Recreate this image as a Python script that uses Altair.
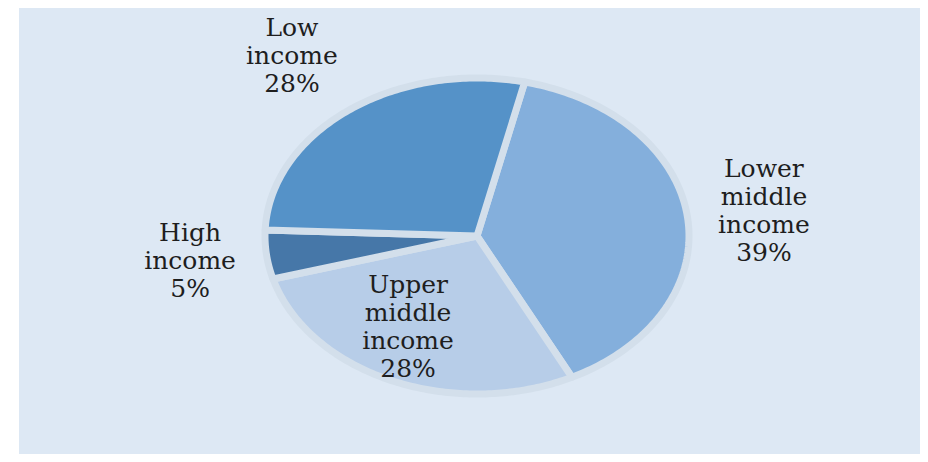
import altair as alt
import pandas as pd

# Data (clockwise from the top, as in the reference)
categories = ["Lower middle income", "Upper middle income", "High income", "Low income"]
shares = [39, 28, 5, 28]
colors = ["#84afdc", "#b7cde8", "#4677a8", "#5592c8"]

df = pd.DataFrame({"category": categories, "share": shares, "k": list(range(len(categories)))})

N = 120  # points along each slice's arc
OFFSET = 13 * 3.141592653589793 / 180  # start angle of first slice (clockwise from top)
LINE_H = 28
RY_PX = 158

base = alt.Chart(df).transform_joinaggregate(
    total="sum(share)"
).transform_window(
    cum="sum(share)", sort=[alt.SortField("k")], frame=[None, 0]
).transform_calculate(
    a0=f"2*PI*(datum.cum - datum.share)/datum.total + {OFFSET}",
    a1=f"2*PI*datum.cum/datum.total + {OFFSET}",
)

xs = alt.Scale(domain=[-1, 1], range=[246, 670], nice=False, zero=False)
ys = alt.Scale(domain=[-1, 1], range=[228 + RY_PX, 228 - RY_PX], nice=False, zero=False)
color = alt.Color("category:N", scale=alt.Scale(domain=categories, range=colors), legend=None)

slices = base.transform_calculate(
    pts=f"sequence(0, {N + 3})"
).transform_flatten(
    ["pts"], as_=["i"]
).transform_calculate(
    ang=f"datum.a0 + (datum.a1 - datum.a0) * clamp(datum.i - 1, 0, {N}) / {N}",
    r=f"(datum.i == 0 || datum.i == {N + 2}) ? 0 : 1",
).transform_calculate(
    px="datum.r * sin(datum.ang)",
    py="datum.r * cos(datum.ang)",
).mark_line(
    filled=True, stroke="#d3dfeb", strokeWidth=7, strokeJoin="round"
).encode(
    x=alt.X("px:Q", scale=xs, axis=None),
    y=alt.Y("py:Q", scale=ys, axis=None),
    color=color,
    detail="category:N",
    order="i:Q",
)

labels = base.transform_calculate(
    mid="(datum.a0 + datum.a1) / 2",
    pct="format(datum.share / datum.total, '.0%')",
).transform_calculate(
    inside="datum.category == 'Upper middle income'",
    label="datum.category + ' ' + datum.pct",
).transform_calculate(
    lr="datum.inside ? 0.66 : 1.35 + 0.11 * abs(cos(datum.mid))",
    mid2="datum.inside ? datum.mid + 0.1 : datum.mid",
    nlines="length(split(datum.label, ' '))",
).transform_calculate(
    lx="datum.lr * sin(datum.mid2)",
    ly=f"datum.lr * cos(datum.mid2) + (datum.nlines - 1) * {LINE_H / 2} / {RY_PX}",
).mark_text(
    lineBreak=" ", font="DejaVu Serif", fontSize=25, lineHeight=LINE_H,
    color="#1e1e1e", align="center", baseline="middle",
).encode(
    x=alt.X("lx:Q", scale=xs, axis=None),
    y=alt.Y("ly:Q", scale=ys, axis=None),
    text="label:N",
)

chart = alt.layer(slices, labels).properties(
    width=901,
    height=446,
    padding={"left": 11, "top": 0, "right": 0, "bottom": 0},
    autosize="none",
    background="white",
).configure_view(fill="#dde8f4", strokeWidth=0)

chart.save("out.html", embed_options={"renderer": "svg", "actions": False})
